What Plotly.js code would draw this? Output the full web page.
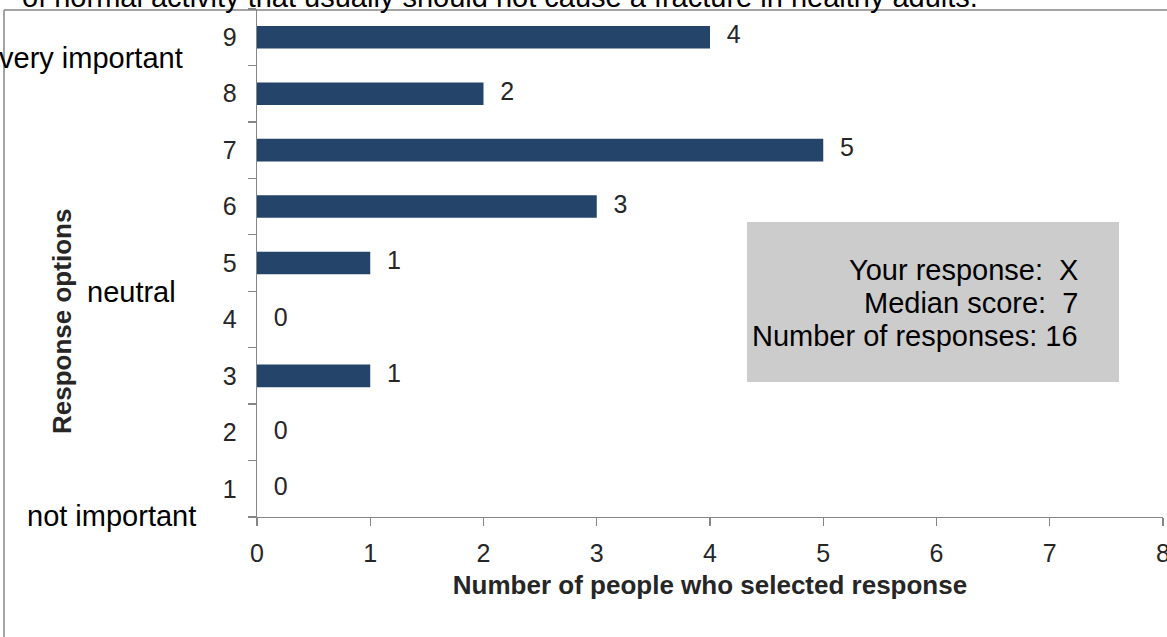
<!DOCTYPE html>
<html>
<head>
<meta charset="utf-8">
<script src="https://cdn.plot.ly/plotly-3.0.1.min.js"></script>
<style>
html,body{margin:0;padding:0;background:#fff;}
#chart{width:1167px;height:637px;}
</style>
</head>
<body>
<div id="chart"></div>
<script>
// Data
var categories = ['1','2','3','4','5','6','7','8','9'];
var counts = [0, 0, 1, 0, 1, 3, 5, 2, 4];
var xTickValues = [0,1,2,3,4,5,6,7,8];
var titleText = 'of normal activity that usually should not cause a fracture in healthy adults.';
var scaleLabels = ['very important', 'neutral', 'not important'];
var infoLines = ['Your response:\u00A0\u00A0X', 'Median score:\u00A0\u00A07', 'Number of responses:\u00A016'];
var xTitle = 'Number of people who selected response';
var yTitle = 'Response options';

var FONT = 'Liberation Sans, Arial, sans-serif';
var W = 1167, H = 637;
var mL = 257, mR = 4, mT = 9, mB = 120;
var pw = W - mL - mR, ph = H - mT - mB;
function px2x(p){ return (p - mL) / pw; }
function py2y(p){ return (H - mB - p) / ph; }

var barTrace = {
  type: 'bar',
  orientation: 'h',
  x: counts,
  y: categories,
  width: 0.4,
  marker: {color: '#24446a', line: {width: 0}},
  hoverinfo: 'x+y',
  showlegend: false
};

var labelTrace = {
  type: 'scatter',
  mode: 'markers+text',
  x: counts,
  y: categories,
  text: counts.map(String),
  textposition: 'middle right',
  textfont: {family: FONT, size: 25, color: '#262626'},
  marker: {size: 25, opacity: 0},
  cliponaxis: false,
  hoverinfo: 'skip',
  showlegend: false
};

var annotations = [
  {text: titleText, xref: 'paper', yref: 'paper', x: px2x(20), y: py2y(-3), xanchor: 'left', yanchor: 'middle', showarrow: false, font: {family: FONT, size: 29, color: '#000'}},
  {text: scaleLabels[0], xref: 'paper', yref: 'paper', x: px2x(185), y: py2y(58), xanchor: 'right', yanchor: 'middle', showarrow: false, font: {family: FONT, size: 29, color: '#000'}},
  {text: scaleLabels[1], xref: 'paper', yref: 'paper', x: px2x(178), y: py2y(292), xanchor: 'right', yanchor: 'middle', showarrow: false, font: {family: FONT, size: 29, color: '#000'}},
  {text: scaleLabels[2], xref: 'paper', yref: 'paper', x: px2x(198), y: py2y(516), xanchor: 'right', yanchor: 'middle', showarrow: false, font: {family: FONT, size: 29, color: '#000'}},
  {text: '<b>' + yTitle + '</b>', xref: 'paper', yref: 'paper', x: px2x(62), y: py2y(322), xanchor: 'center', yanchor: 'middle', textangle: -90, showarrow: false, font: {family: FONT, size: 26, color: '#262626'}}
];
var infoY = [270, 303, 336];
infoLines.forEach(function(t, i){
  annotations.push({text: t, xref: 'paper', yref: 'paper', x: px2x(1080), y: py2y(infoY[i]), xanchor: 'right', yanchor: 'middle', showarrow: false, font: {family: FONT, size: 29, color: '#000'}});
});

var shapes = [
  {type: 'rect', xref: 'paper', yref: 'paper', x0: px2x(747), x1: px2x(1119), y0: py2y(382), y1: py2y(222), fillcolor: '#cccccc', line: {width: 0}, layer: 'below'},
  {type: 'line', xref: 'paper', yref: 'paper', x0: px2x(4), x1: px2x(1170), y0: py2y(10), y1: py2y(10), line: {color: '#868686', width: 1.3}},
  {type: 'line', xref: 'paper', yref: 'paper', x0: px2x(4), x1: px2x(4), y0: py2y(10), y1: py2y(640), line: {color: '#868686', width: 1.5}}
];

var layout = {
  width: W, height: H,
  margin: {l: mL, r: mR, t: mT, b: mB, pad: 0},
  paper_bgcolor: '#ffffff',
  plot_bgcolor: 'rgba(0,0,0,0)',
  font: {family: FONT, color: '#262626'},
  showlegend: false,
  bargap: 0.6,
  xaxis: {
    range: [0, 8],
    tickvals: xTickValues,
    ticktext: xTickValues.map(String),
    ticklabeloverflow: 'allow',
    showgrid: false, zeroline: false,
    showline: true, linecolor: '#868686', linewidth: 1.3,
    ticks: 'outside', ticklen: 8, tickcolor: '#868686', tickwidth: 1.3,
    tickfont: {family: FONT, size: 25, color: '#262626'},
    ticklabelstandoff: 6,
    title: {text: '<b>' + xTitle + '</b>', font: {family: FONT, size: 26, color: '#262626'}, standoff: 9},
    fixedrange: true
  },
  yaxis: {
    type: 'category',
    categoryorder: 'array',
    categoryarray: categories,
    range: [-0.5, 8.5],
    showgrid: false, zeroline: false,
    showline: true, linecolor: '#868686', linewidth: 1.3,
    ticks: 'outside', tickson: 'boundaries', ticklen: 8, tickcolor: '#868686', tickwidth: 1.3,
    tickfont: {family: FONT, size: 25, color: '#262626'},
    ticklabelstandoff: 14,
    fixedrange: true
  },
  annotations: annotations,
  shapes: shapes
};

Plotly.newPlot('chart', [barTrace, labelTrace], layout, {displayModeBar: false, staticPlot: true});
</script>
</body>
</html>
